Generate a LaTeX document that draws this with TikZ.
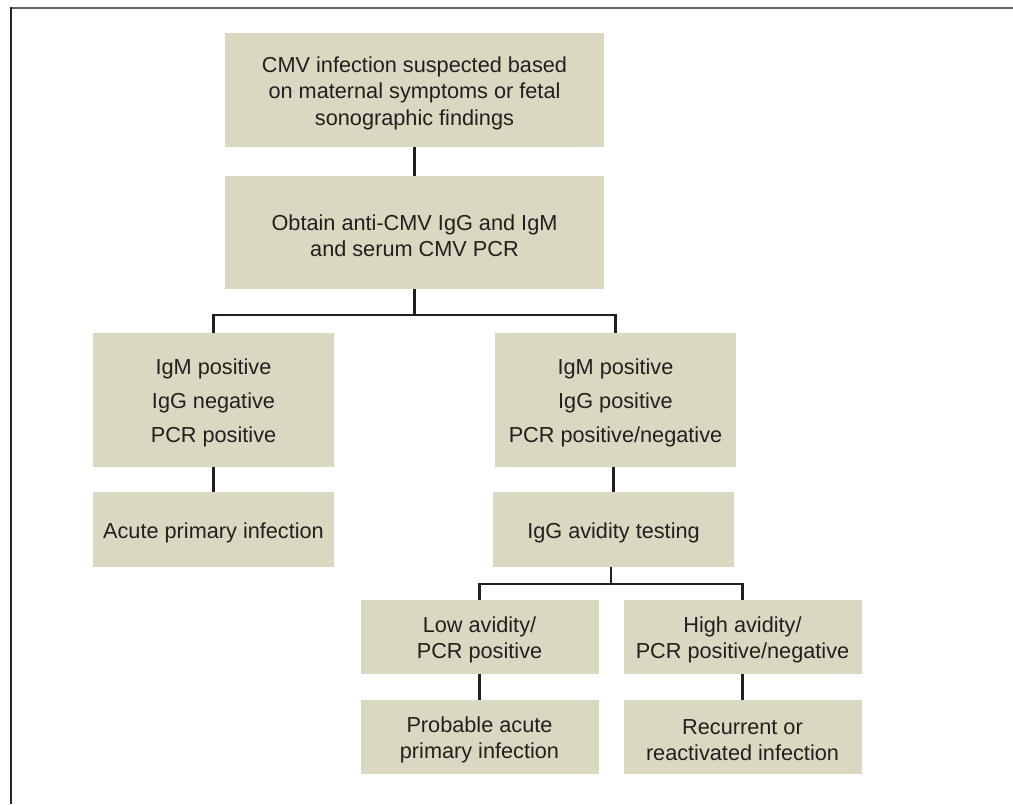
\documentclass[tikz,border=0pt]{standalone}
\usepackage{fontspec}
\setmainfont{Liberation Sans}
\definecolor{boxfill}{RGB}{218,216,192}
\definecolor{txt}{RGB}{35,31,32}
\definecolor{linec}{RGB}{35,31,32}
\definecolor{framegray}{RGB}{102,102,102}
\begin{document}
\begin{tikzpicture}[x=1pt,y=-1pt,
  box/.style={fill=boxfill, draw=none, inner sep=0pt},
  label/.style={inner sep=0pt, align=center, text=txt,
    font=\fontsize{21.7}{26.5}\selectfont},
  talllabel/.style={label, font=\fontsize{21.7}{34}\selectfont},
  conn/.style={draw=linec, line width=2.7pt}]
\useasboundingbox (0,0) rectangle (1013,804);
\fill[white] (0,0) rectangle (1013,804);
\draw[framegray, line width=2.6pt] (10,8) -- (1013,8);
\draw[black!85, line width=1.9pt] (10.9,7) -- (10.9,804);

\node[box, minimum width=379pt, minimum height=114pt] (b1) at (414.5,90) {};
\node[box, minimum width=379pt, minimum height=113pt] (b2) at (414.5,232.5) {};
\node[box, minimum width=241pt, minimum height=134pt] (b3) at (213.5,400) {};
\node[box, minimum width=241pt, minimum height=134pt] (b4) at (615.5,400) {};
\node[box, minimum width=241pt, minimum height=75pt] (b5) at (213.5,529.5) {};
\node[box, minimum width=241pt, minimum height=75pt] (b6) at (613.5,529.5) {};
\node[box, minimum width=238pt, minimum height=74pt] (b7) at (479.5,637) {};
\node[box, minimum width=238pt, minimum height=74pt] (b8) at (742.5,637) {};
\node[box, minimum width=238pt, minimum height=74pt] (b9) at (479.5,737) {};
\node[box, minimum width=238pt, minimum height=74pt] (b10) at (742.5,737) {};

\node[label] (t1) at ([yshift=-3pt]b1.center)
  {CMV infection suspected based\\on maternal symptoms or fetal\\sonographic findings};
\node[label] (t2) at ([yshift=-3pt]b2.center)
  {Obtain anti-CMV IgG and IgM\\and serum CMV PCR};
\node[talllabel] (t3) at ([yshift=-3pt]b3.center)
  {IgM positive\\IgG negative\\PCR positive};
\node[talllabel] (t4) at ([yshift=-3pt]b4.center)
  {IgM positive\\IgG positive\\PCR positive/negative};
\node[label] (t5) at ([yshift=-3pt]b5.center) {Acute primary infection};
\node[label] (t6) at ([yshift=-3pt]b6.center) {IgG avidity testing};
\node[label] (t7) at ([yshift=-3pt]b7.center) {Low avidity/\\PCR positive};
\node[label] (t8) at ([yshift=-3pt]b8.center) {High avidity/\\PCR positive/negative};
\node[label] (t9) at ([yshift=-3pt]b9.center) {Probable acute\\primary infection};
\node[label] (t10) at ([yshift=-3pt]b10.center) {Recurrent or\\reactivated infection};

\coordinate (j1) at (414.5,315);
\coordinate (j2) at (611,584);

\draw[conn] (b1.south) -- (b2.north);
\draw[conn] (b2.south) -- (j1);
\draw[conn] (b3.north) |- (j1) -| (b4.north);
\draw[conn] (b3.south) -- (b5.north);
\draw[conn] (b4.south -| b6.north) -- (b6.north);
\draw[conn] (b6.south -| j2) -- (j2);
\draw[conn] (b7.north) |- (j2) -| (b8.north);
\draw[conn] (b7.south) -- (b9.north);
\draw[conn] (b8.south) -- (b10.north);
\end{tikzpicture}
\end{document}
